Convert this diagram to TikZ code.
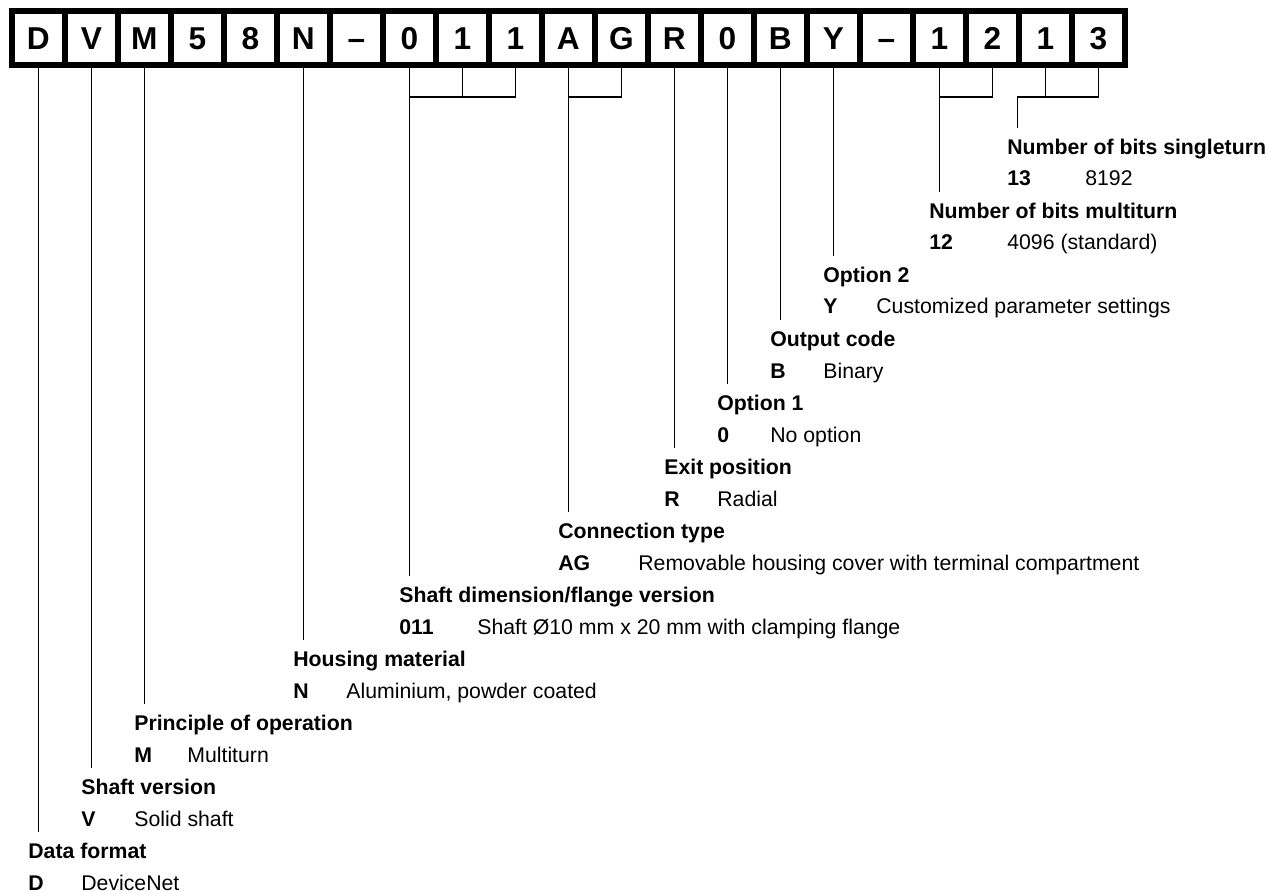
\documentclass[tikz,border=0pt]{standalone}
\usepackage{fontspec}
\setmainfont{Liberation Sans}
\usetikzlibrary{positioning, calc}

\begin{document}
\begin{tikzpicture}[
        x=0.02cm, y=-0.02cm,
        cell/.style={rectangle, draw=black, fill=white, line width=0.12cm, minimum width=1.06cm, minimum height=1.08cm, inner sep=0pt, text height=13pt, text depth=0pt, font=\fontsize{18}{20}\selectfont\bfseries},
        title/.style={anchor=base west, inner sep=0pt, text height=14.5pt, text depth=0pt, font=\fontsize{12.1}{14}\selectfont\bfseries},
        code/.style={anchor=base west, inner sep=0pt, font=\fontsize{12.1}{14}\selectfont\bfseries},
        desc/.style={anchor=base west, inner sep=0pt, font=\fontsize{12.1}{14}\selectfont},
        lead/.style={line width=0.6pt},
    ]

    \useasboundingbox[fill=white] (0,0) rectangle (1269,892);

    % ===== Type code strip =====
    \foreach \ch [count=\i] in {D,V,M,5,8,N,\textendash,0,1,1,A,G,R,0,B,Y,\textendash,1,2,1,3}
        \node[cell] (C\i) at ({38.3+53*(\i-1)}, 38.3) {\ch};

    % ===== Key entries =====
    \foreach \nm/\tx/\ty/\ttl/\cd/\tab/\dsc in {
        ST/1007/154/Number of bits singleturn/13/78/8192,
        MT/929/218/Number of bits multiturn/12/78/4096 (standard),
        O2/823/282/Option 2/Y/53/Customized parameter settings,
        OC/770/346/Output code/B/53/Binary,
        O1/717/410/Option 1/0/53/No option,
        EP/664/474/Exit position/R/53/Radial,
        CT/558/538/Connection type/AG/80/Removable housing cover with terminal compartment,
        SD/399/602/{Shaft dimension/flange version}/011/78/Shaft Ø10 mm x 20 mm with clamping flange,
        HM/293/666/Housing material/N/53/{Aluminium, powder coated},
        PO/134/730/Principle of operation/M/53/Multiturn,
        SV/81/794/Shaft version/V/53/Solid shaft,
        DF/28/858/Data format/D/53/DeviceNet%
    } {
        \node[title] (\nm) at (\tx,\ty) {\ttl};
        \node[code] (\nm-c) at ($(\nm.base west)+(0,32)$) {\cd};
        \node[desc] (\nm-d) at ($(\nm.base west)+(\tab,32)$) {\dsc};
    }

    % ===== Leads from single characters =====
    \foreach \c/\lb in {1/DF, 2/SV, 3/PO, 6/HM, 13/EP, 14/O1, 15/OC, 16/O2}
        \draw[lead] (C\c.south) -- (C\c.south |- \lb.north);

    % ===== Brackets for grouped characters =====
    \coordinate (BR) at (0,97);
    \draw[lead] (C8.south) -- (C8.south |- SD.north);
    \draw[lead] (C8.south |- BR) -| (C10.south);
    \draw[lead] (C9.south) -- (C9.south |- BR);

    \draw[lead] (C11.south) -- (C11.south |- CT.north);
    \draw[lead] (C11.south |- BR) -| (C12.south);

    \draw[lead] (C18.south) -- (C18.south |- MT.north);
    \draw[lead] (C18.south |- BR) -| (C19.south);

    \coordinate (STtop) at ($(ST.north west)+(10.7,0)$);
    \draw[lead] (C21.south) -- (C21.south |- BR) -| (STtop);
    \draw[lead] (C20.south) -- (C20.south |- BR);

\end{tikzpicture}
\end{document}
